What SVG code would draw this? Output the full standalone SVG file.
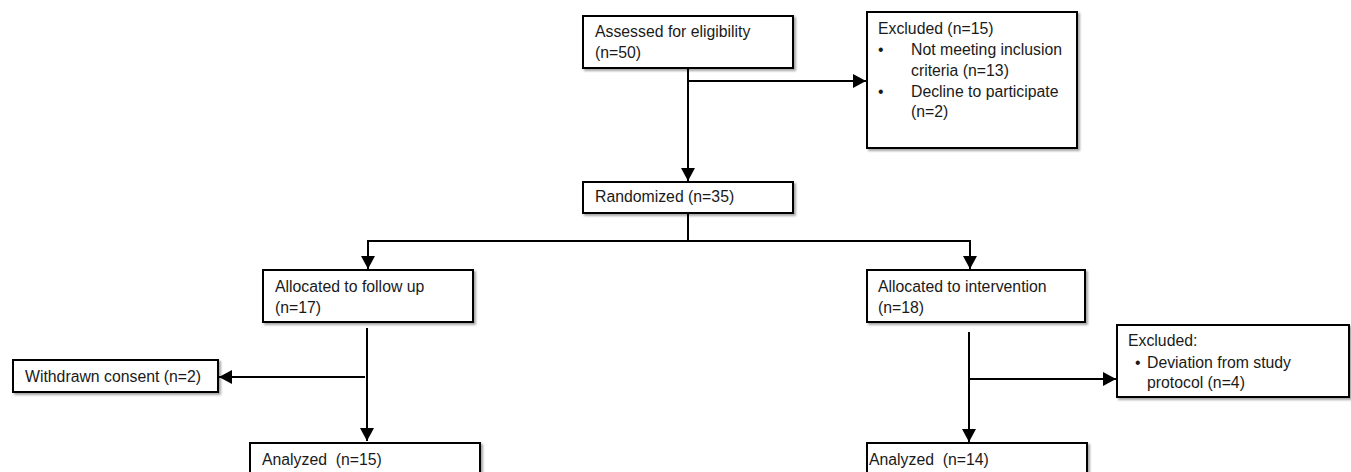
<svg xmlns="http://www.w3.org/2000/svg" width="1351" height="472" viewBox="0 0 1351 472">
<style>
.box{fill:#fff;stroke:#000;stroke-width:2;filter:url(#sh)}
.t{font-family:"Liberation Sans",Arial,sans-serif;font-size:15.8px;fill:#1a1a1a}
.c{fill:none;stroke:#000;stroke-width:2}
.a{marker-end:url(#arr)}
</style>
<defs>
<filter id="sh" x="-5%" y="-5%" width="115%" height="130%">
<feDropShadow dx="2" dy="2" stdDeviation="1.2" flood-color="#000" flood-opacity="0.35"/>
</filter>
<marker id="arr" markerUnits="userSpaceOnUse" markerWidth="14" markerHeight="14" refX="13" refY="7" orient="auto">
<path d="M0,0 L13,7 L0,14 z" fill="#000"/>
</marker>
</defs>
<rect width="1351" height="472" fill="#fff"/>
<g id="connectors">
<path class="c a" d="M688,68 V181"/>
<path class="c a" d="M688,81 H866"/>
<path class="c" d="M688,213 V241 M368,241 H970"/>
<path class="c a" d="M368,240 V269"/>
<path class="c a" d="M970,240 V269"/>
<path class="c a" d="M367,328 V441"/>
<path class="c a" d="M365,377 H219"/>
<path class="c a" d="M969,332 V442"/>
<path class="c a" d="M968,379 H1116"/>
</g>
<g id="assessed">
<rect class="box" x="583" y="16" width="210" height="52"/>
<text class="t" x="595" y="37">Assessed for eligibility</text>
<text class="t" x="595" y="58">(n=50)</text>
</g>
<g id="excluded1">
<rect class="box" x="867" y="12" width="210" height="136"/>
<text class="t" x="878" y="34">Excluded (n=15)</text>
<text class="t" x="878" y="55">•</text>
<text class="t" x="911" y="55">Not meeting inclusion</text>
<text class="t" x="911" y="76">criteria (n=13)</text>
<text class="t" x="878" y="97">•</text>
<text class="t" x="911" y="97">Decline to participate</text>
<text class="t" x="911" y="117">(n=2)</text>
</g>
<g id="randomized">
<rect class="box" x="583" y="182" width="210" height="31"/>
<text class="t" x="595" y="202">Randomized (n=35)</text>
</g>
<g id="followup">
<rect class="box" x="263" y="270" width="210" height="52"/>
<text class="t" x="275" y="292">Allocated to follow up</text>
<text class="t" x="275" y="313">(n=17)</text>
</g>
<g id="intervention">
<rect class="box" x="867" y="270" width="218" height="52"/>
<text class="t" x="878" y="292">Allocated to intervention</text>
<text class="t" x="878" y="313">(n=18)</text>
</g>
<g id="withdrawn">
<rect class="box" x="13" y="360" width="205" height="32"/>
<text class="t" x="25" y="382">Withdrawn consent (n=2)</text>
</g>
<g id="excluded2">
<rect class="box" x="1117" y="325" width="232" height="72"/>
<text class="t" x="1128" y="346">Excluded:</text>
<text class="t" x="1135" y="368">•</text>
<text class="t" x="1147" y="368">Deviation from study</text>
<text class="t" x="1147" y="388">protocol (n=4)</text>
</g>
<g id="analyzed15">
<rect class="box" x="250" y="443" width="230" height="40"/>
<text class="t" x="262" y="465">Analyzed&#160; (n=15)</text>
</g>
<g id="analyzed14">
<rect class="box" x="867" y="443" width="220" height="40"/>
<text class="t" x="869" y="465">Analyzed&#160; (n=14)</text>
</g>
</svg>
